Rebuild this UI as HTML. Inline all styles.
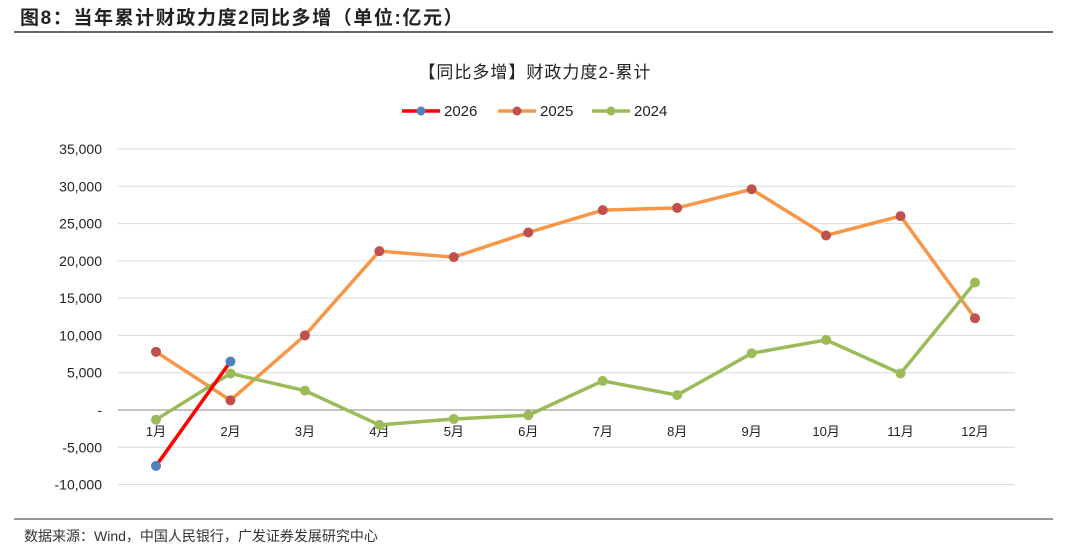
<!DOCTYPE html>
<html><head><meta charset="utf-8">
<style>
body{margin:0;background:#fff;width:1080px;height:555px;overflow:hidden;font-family:"Liberation Sans","Noto Sans CJK SC",sans-serif;}
.t{position:absolute;left:20px;top:3px;font-size:19px;letter-spacing:1.6px;font-weight:bold;color:#222;}
</style></head><body>
<div class="t">图8：当年累计财政力度2同比多增（单位:亿元）</div>
<svg width="1080" height="555" style="position:absolute;left:0;top:0" id="c">
<line x1="14" y1="32" x2="1053" y2="32" stroke="#333" stroke-width="1.5"/>
<line x1="14" y1="519" x2="1053" y2="519" stroke="#333" stroke-width="1"/>
<text x="535" y="78" text-anchor="middle" font-size="17" letter-spacing="1" fill="#222">【同比多增】财政力度2-累计</text>
<text x="24" y="541" font-size="14" fill="#333">数据来源：Wind，中国人民银行，广发证券发展研究中心</text>
<g id="g"></g>
</svg>
<script>
const months=["1月","2月","3月","4月","5月","6月","7月","8月","9月","10月","11月","12月"];
const yTicks=[35000,30000,25000,20000,15000,10000,5000,0,-5000,-10000];
const s2026=[-7500,6500];
const s2025=[7800,1300,10000,21300,20500,23800,26800,27100,29600,23400,26000,12300];
const s2024=[-1300,4900,2600,-2000,-1200,-700,3900,2000,7600,9400,4900,17100];
const NS="http://www.w3.org/2000/svg",g=document.getElementById('g');
const X=i=>156+i*(975-156)/11, Y=v=>410-v*(261/35000);
function mk(t,a){const e=document.createElementNS(NS,t);for(const k in a)e.setAttribute(k,a[k]);g.appendChild(e);return e;}
yTicks.forEach(v=>{
 if(v!==0){const l=mk('line',{x1:118,x2:1015,y1:Y(v),y2:Y(v),stroke:'#d9d9d9','stroke-width':1});
 
 }
 const t=mk('text',{x:102,y:Y(v)+5,'text-anchor':'end','font-size':14,fill:'#222'});
 t.textContent=v===0?'-':v.toLocaleString('en-US');
 
 
});
const ax=mk('line',{x1:118,x2:1015,y1:Y(0),y2:Y(0),stroke:'#888','stroke-width':1});


months.forEach((m,i)=>{const t=mk('text',{x:X(i),y:436,'text-anchor':'middle','font-size':13,fill:'#222'});t.textContent=m;
 
 });
function series(d,lc,mc,name){
 const p=mk('polyline',{points:d.map((v,i)=>X(i)+','+Y(v)).join(' '),fill:'none',stroke:lc,'stroke-width':3.5});
 
 
 d.forEach((v,i)=>{const c=mk('circle',{cx:X(i),cy:Y(v),r:5,fill:mc});
 
 });
}
series(s2025,'#f79646','#c0504d','2025');
series(s2024,'#9bbb59','#9bbb59','2024');
series(s2026,'#ff0000','#4f81bd','2026');
[['2026','#ff0000','#4f81bd',402],['2025','#f79646','#c0504d',498],['2024','#9bbb59','#9bbb59',592]].forEach(([n,lc,mc,x])=>{
 const l=mk('line',{x1:x,x2:x+38,y1:111,y2:111,stroke:lc,'stroke-width':3.5});
 
 
 const c=mk('circle',{cx:x+19,cy:111,r:4.5,fill:mc});
 
 
 const t=mk('text',{x:x+42,y:116,'font-size':15,fill:'#222'});t.textContent=n;
 
 
});
</script>
</body></html>
